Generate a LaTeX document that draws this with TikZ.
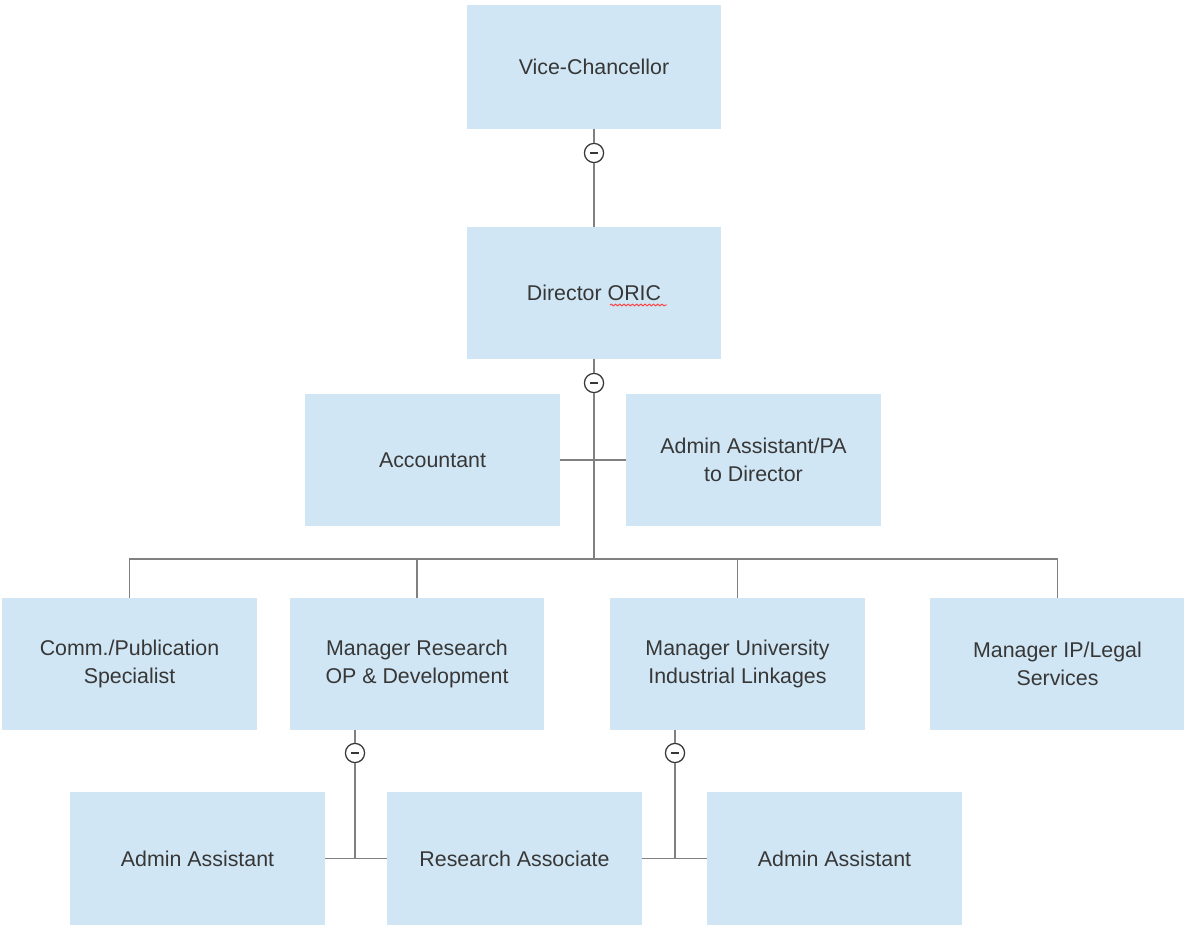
\documentclass[tikz,border=0pt]{standalone}
\usepackage{fontspec}
\setmainfont{Liberation Sans}
\usetikzlibrary{decorations.pathmorphing}

\definecolor{boxblue}{RGB}{208,230,244}
\definecolor{linegrey}{RGB}{128,128,128}
\definecolor{textgrey}{RGB}{55,55,55}

\begin{document}
\begin{tikzpicture}[x=0.025cm, y=-0.025cm,
  every node/.style={rectangle, fill=boxblue, minimum width=6.35cm, minimum height=3.3cm,
    align=center, text=textgrey, font=\fontsize{15.2}{20}\selectfont, inner sep=0pt},
  collapse/.style={circle, draw=textgrey, fill=white, line width=0.9pt, minimum width=0.48cm,
    minimum height=0.48cm, font=\fontsize{9}{9}\selectfont},
  link/.style={draw=linegrey, line width=1.3pt},
  spell/.style={draw=red!75!white, line width=0.7pt, decorate,
    decoration={snake, amplitude=0.6pt, segment length=3pt}}]

% ORIC organogram, drawn in pixel units of the original chart.

\useasboundingbox (0,0) rectangle (1184,925);

\node[minimum height=3.1cm] (vc) at (594,67) {Vice-Chancellor};
\node (dir) at (594,293) {Director ORIC};

\node (acc) at (432.5,460) {Accountant};
\node (pa) at (753.5,460) {Admin Assistant/PA\\to Director};

\node (comm) at (129.5,664) {Comm./Publication\\Specialist};
\node (mrd) at (417,664) {Manager Research\\OP \& Development};
\node (mui) at (737.5,664) {Manager University\\Industrial Linkages};
\node (mip) at (1057.5,664) {Manager IP/Legal\\Services};

\node (aa1) at (197.5,858.5) {Admin Assistant};
\node (ra) at (514.5,858.5) {Research Associate};
\node (aa2) at (834.5,858.5) {Admin Assistant};

\coordinate (bus) at (594,559);

\node[collapse] (c1) at (594,153) {\rule{5.5pt}{1.5pt}};
\node[collapse] (c2) at (594,383) {\rule{5.5pt}{1.5pt}};
\node[collapse] (c3) at (355,753) {\rule{5.5pt}{1.5pt}};
\node[collapse] (c4) at (675,753) {\rule{5.5pt}{1.5pt}};

\draw[link] (vc) -- (c1) -- (dir);
\draw[link] (dir) -- (c2) -- (bus);

\draw[link] (acc) -- (pa);

\draw[link] (comm.north) |- (bus) -| (mip.north);
\draw[link] (mrd.north) -- (mrd.north |- bus);
\draw[link] (mui.north) -- (mui.north |- bus);

\draw[link] (mrd.south -| c3) -- (c3) -- (c3 |- aa1.east);
\draw[link] (aa1.east) -- (ra.west);
\draw[link] (mui.south -| c4) -- (c4) -- (c4 |- ra.east);
\draw[link] (ra.east) -- (aa2.west);

\draw[spell] ([shift={(16,12)}]dir.center) -- ([shift={(73,12)}]dir.center);

\end{tikzpicture}
\end{document}
